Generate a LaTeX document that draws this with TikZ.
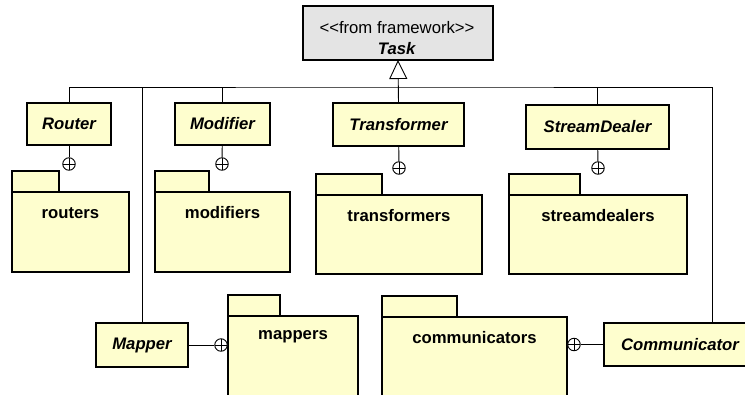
\documentclass[tikz,border=0pt]{standalone}
\usepackage{fontspec}
\setmainfont{Liberation Sans}
\usepackage{tikz}
\usetikzlibrary{arrows.meta}
\tikzset{>=latex}
\definecolor{umlyellow}{HTML}{FEFECE}
\definecolor{umlgray}{HTML}{E4E4E4}
\newcommand\umlsize{\fontsize{16.7}{21}\selectfont}
\tikzset{
    classbox/.style={draw,fill=umlyellow,line width=1.8pt,inner sep=0pt,outer sep=0pt,font=\umlsize\bfseries\itshape},
    pkgbody/.style={draw,fill=umlyellow,line width=1.8pt,inner sep=0pt,outer sep=0pt},
    pkgtext/.style={inner sep=0pt,font=\umlsize\bfseries},
    nesting/.style={circle,draw,fill=white,line width=0.9pt,minimum size=12.5pt,inner sep=0pt,
        path picture={\draw[line width=0.9pt] (path picture bounding box.north) -- (path picture bounding box.south)
            (path picture bounding box.west) -- (path picture bounding box.east);}},
    conn/.style={line width=0.9pt}
}
% name, x1, y1, x2, y2, tab right, text
\newcommand\package[7]{
    \node[pkgbody,minimum width=#4-#2,minimum height=#5-#3,anchor=north west] (#1) at (#2,#3) {};
    \node[pkgbody,minimum width=#6-#2,minimum height=21,anchor=south west] (#1tab) at (#1.north west) {};
    \node[pkgtext] (#1label) at ([yshift=-21pt]#1.north) {#7};
}

\begin{document}
\begin{tikzpicture}[x=1pt,y=-1pt]
    \clip (0,0) rectangle (745,394);
    \fill[white] (0,0) rectangle (745,394);
    \node[classbox,fill=umlgray,minimum width=190,minimum height=54] (task) at (398,33) {};
    \node[font=\umlsize,align=center,inner sep=0pt] (tasklabel) at (397,38)
        {<\kern0pt<from framework>\kern0pt>\\\textbf{\textit{Task}}};
    \node[classbox,minimum width=84,minimum height=42]  (router)       at (69,124)    {Router};
    \node[classbox,minimum width=95,minimum height=42]  (modifier)     at (222.5,124) {Modifier};
    \node[classbox,minimum width=131,minimum height=43] (transformer)  at (398.5,124.5) {Transformer};
    \node[classbox,minimum width=143,minimum height=44] (streamdealer) at (597.5,127) {StreamDealer};
    \node[classbox,minimum width=92,minimum height=44]  (mapper)       at (142,345)   {Mapper};
    \node[classbox,minimum width=152,minimum height=43] (communicator) at (680,344.5) {Communicator};
    \package{routers}{12}{192}{129}{272}{59}{routers}
    \package{modifiers}{155}{192}{290}{272}{209}{modifiers}
    \package{transformers}{316}{195}{482}{274}{382}{transformers}
    \package{streamdealers}{509}{195}{687}{274}{580}{streamdealers}
    \package{mappers}{228}{316}{358}{420}{280}{mappers}
    \package{communicators}{382}{317}{567}{420}{457}{communicators}
    \node[nesting] (routernest)       at (69,164)  {};
    \node[nesting] (modifiernest)     at (222,164) {};
    \node[nesting] (transformernest)  at (399,168) {};
    \node[nesting] (streamdealernest) at (598,168) {};
    \node[nesting] (mappernest)       at (221,345) {};
    \node[nesting] (communicatornest) at (574,344.5) {};
    \coordinate (bus) at (398.5,87);
    \coordinate (comtop) at (712,323);
    \draw[conn,-{Triangle[open,length=19pt,width=18pt]}] (transformer.north) -- (task.south);
    \draw[conn] (router.north) |- (bus) -| (comtop);
    \draw[conn] (modifier.north) -- (modifier.north |- bus);
    \draw[conn] (streamdealer.north) -- (streamdealer.north |- bus);
    \draw[conn] (mapper.north) -- (mapper.north |- bus);
    \draw[conn] (router) -- (routernest);
    \draw[conn] (modifier) -- (modifiernest);
    \draw[conn] (transformer) -- (transformernest);
    \draw[conn] (streamdealer) -- (streamdealernest);
    \draw[conn] (mapper) -- (mappernest);
    \draw[conn] (communicator) -- (communicatornest);
\end{tikzpicture}
\end{document}
